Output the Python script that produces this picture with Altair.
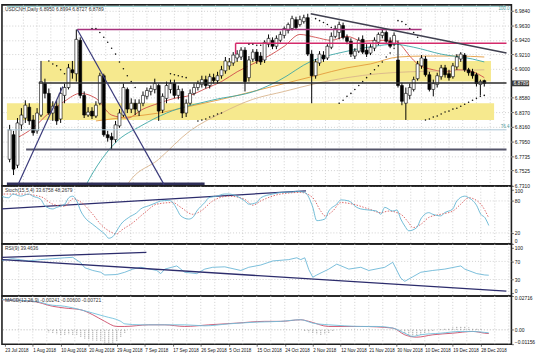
import json
import altair as alt
import pandas as pd

FONT = "Liberation Sans"

# ---------------- data (bar index 0 = 23 Jul 2018) ----------------
open_ = [6.7689, 6.8045, 6.7603, 6.8188, 6.8287, 6.8444, 6.8259, 6.8102, 6.8330, 6.8786,
         6.8644, 6.8359, 6.8458, 6.8273, 6.8615, 6.8729, 6.8986, 6.8929, 6.9413, 6.8615,
         6.8330, 6.8387, 6.8316, 6.8501, 6.8900, 6.8045, 6.8017, 6.7974, 6.8173, 6.8330,
         6.8701, 6.8416, 6.8501, 6.8387, 6.8501, 6.8601, 6.8672, 6.8701, 6.8758, 6.8401,
         6.8572, 6.8701, 6.8786, 6.8615, 6.8672, 6.8359, 6.8501, 6.8644, 6.8729, 6.8772,
         6.8843, 6.8758, 6.8872, 6.8829, 6.8900, 6.8971, 6.9043, 6.9085, 6.9157, 6.9171,
         6.9270, 6.8872, 6.9142, 6.9242, 6.9185, 6.9128, 6.9356, 6.9413, 6.9327, 6.9413,
         6.9484, 6.9556, 6.9584, 6.9712, 6.9641, 6.9684, 6.9741, 6.9213, 6.8900, 6.9085,
         6.9199, 6.9157, 6.9313, 6.9470, 6.9527, 6.9627, 6.9456, 6.9399, 6.9185, 6.9256,
         6.9427, 6.9270, 6.9228, 6.9299, 6.9384, 6.9484, 6.9527, 6.9399, 6.9356, 6.9128,
         6.8758, 6.8501, 6.8615, 6.8701, 6.8857, 6.9043, 6.9142, 6.8914, 6.8701, 6.8772,
         6.8886, 6.9014, 6.8929, 6.8886, 6.9028, 6.9142, 6.9199, 6.8986, 6.8957, 6.8914,
         6.8772, 6.8829]
close_ = [6.8116, 6.7546, 6.8216, 6.8330, 6.8473, 6.8245, 6.8074, 6.8359, 6.8815, 6.8644,
          6.8359, 6.8458, 6.8245, 6.8644, 6.8729, 6.9014, 6.8943, 6.9427, 6.8615, 6.8330,
          6.8373, 6.8316, 6.8473, 6.8900, 6.8045, 6.8002, 6.7974, 6.8188, 6.8359, 6.8729,
          6.8416, 6.8501, 6.8416, 6.8501, 6.8615, 6.8686, 6.8715, 6.8786, 6.8387, 6.8601,
          6.8758, 6.8786, 6.8615, 6.8701, 6.8359, 6.8501, 6.8644, 6.8729, 6.8786, 6.8843,
          6.8758, 6.8886, 6.8829, 6.8900, 6.8986, 6.9114, 6.9100, 6.9199, 6.9213, 6.9270,
          6.8815, 6.9128, 6.9242, 6.9114, 6.9100, 6.9384, 6.9441, 6.9327, 6.9441, 6.9498,
          6.9584, 6.9641, 6.9727, 6.9598, 6.9712, 6.9741, 6.9213, 6.8900, 6.9100, 6.9213,
          6.9142, 6.9327, 6.9470, 6.9584, 6.9641, 6.9456, 6.9399, 6.9213, 6.9256, 6.9413,
          6.9242, 6.9213, 6.9313, 6.9413, 6.9498, 6.9527, 6.9399, 6.9327, 6.9484, 6.8758,
          6.8530, 6.8644, 6.8729, 6.8843, 6.9071, 6.9157, 6.8914, 6.8701, 6.8786, 6.8900,
          6.9014, 6.8914, 6.8872, 6.9043, 6.9171, 6.9213, 6.8986, 6.8943, 6.8900, 6.8786,
          6.8815, 6.8789]
high_ = [6.8188, 6.8102, 6.8287, 6.8430, 6.8544, 6.8501, 6.8330, 6.8430, 6.9114, 6.8857,
         6.8715, 6.8530, 6.8544, 6.8729, 6.8786, 6.9071, 6.9114, 6.9570, 6.9456, 6.8672,
         6.8444, 6.8444, 6.8530, 6.8943, 6.8929, 6.8102, 6.8074, 6.8245, 6.8416, 6.8786,
         6.8729, 6.8572, 6.8558, 6.8558, 6.8672, 6.8729, 6.8758, 6.8857, 6.8786, 6.8644,
         6.8815, 6.8843, 6.8843, 6.8758, 6.8715, 6.8558, 6.8701, 6.8786, 6.8829, 6.8900,
         6.8900, 6.8929, 6.8929, 6.8957, 6.9043, 6.9171, 6.9157, 6.9242, 6.9270, 6.9313,
         6.9313, 6.9185, 6.9285, 6.9285, 6.9242, 6.9413, 6.9498, 6.9456, 6.9484, 6.9541,
         6.9612, 6.9670, 6.9769, 6.9755, 6.9769, 6.9784, 6.9798, 6.9270, 6.9142, 6.9256,
         6.9256, 6.9356, 6.9527, 6.9627, 6.9684, 6.9670, 6.9498, 6.9441, 6.9299, 6.9456,
         6.9484, 6.9356, 6.9356, 6.9456, 6.9527, 6.9570, 6.9556, 6.9456, 6.9527, 6.9413,
         6.8800, 6.8729, 6.8786, 6.8886, 6.9114, 6.9199, 6.9185, 6.8957, 6.8843, 6.8943,
         6.9057, 6.9057, 6.8986, 6.9085, 6.9213, 6.9242, 6.9228, 6.9014, 6.9000, 6.8943,
         6.8843, 6.8843]
low_ = [6.7646, 6.7461, 6.7561, 6.8102, 6.8216, 6.8188, 6.8031, 6.8059, 6.8302, 6.8572,
        6.8330, 6.8245, 6.8188, 6.8216, 6.8501, 6.8701, 6.8857, 6.8815, 6.8572, 6.8287,
        6.8302, 6.8273, 6.8287, 6.8473, 6.8017, 6.7945, 6.7831, 6.7931, 6.8145, 6.8302,
        6.8359, 6.8359, 6.8330, 6.8316, 6.8458, 6.8558, 6.8615, 6.8644, 6.8245, 6.8359,
        6.8501, 6.8644, 6.8572, 6.8558, 6.8287, 6.8302, 6.8473, 6.8615, 6.8686, 6.8729,
        6.8715, 6.8715, 6.8786, 6.8786, 6.8857, 6.8929, 6.8986, 6.9043, 6.9100, 6.9128,
        6.8672, 6.8815, 6.9100, 6.9071, 6.9057, 6.9085, 6.9313, 6.9285, 6.9285, 6.9384,
        6.9441, 6.9513, 6.9556, 6.9570, 6.9612, 6.9655, 6.9185, 6.8501, 6.8857, 6.9043,
        6.9100, 6.9128, 6.9285, 6.9441, 6.9427, 6.9427, 6.9356, 6.9171, 6.9142, 6.9228,
        6.9213, 6.9171, 6.9199, 6.9256, 6.9342, 6.9441, 6.9370, 6.9299, 6.9327, 6.8729,
        6.8473, 6.8259, 6.8558, 6.8672, 6.8829, 6.9000, 6.8886, 6.8672, 6.8601, 6.8729,
        6.8843, 6.8872, 6.8829, 6.8857, 6.8986, 6.9100, 6.8957, 6.8900, 6.8857, 6.8743,
        6.8615, 6.8743]

# moving averages (bar, price)
ma_red_n = [2, 6, 10, 14, 18, 22, 26, 30, 34, 38, 42, 46, 50, 54, 58, 62, 66, 70, 74, 78, 82, 86, 90,
            94, 98, 100, 102, 104, 108, 112, 114, 118, 121]
ma_red_v = [6.8002, 6.8145, 6.8359, 6.8530, 6.8644, 6.8572, 6.8330, 6.8287, 6.8416, 6.8501, 6.8572,
            6.8615, 6.8715, 6.8815, 6.8957, 6.9071, 6.9185, 6.9327, 6.9498, 6.9456, 6.9413, 6.9470,
            6.9399, 6.9413, 6.9413, 6.9327, 6.9185, 6.9071, 6.8986, 6.8957, 6.8986, 6.8957, 6.8872]
ma_orange_n = [22, 30, 38, 46, 54, 62, 70, 78, 86, 92, 99, 106, 114, 121]
ma_orange_v = [6.8245, 6.8302, 6.8359, 6.8458, 6.8558, 6.8672, 6.8786, 6.8900, 6.9014, 6.9071,
               6.9171, 6.9185, 6.9185, 6.9171]
ma_teal_n = [18, 19.5, 27, 33.5, 40, 51.5, 63, 68.6, 77, 85, 93, 98, 103, 110, 118, 121]
ma_teal_v = [6.7147, 6.7318, 6.7931, 6.8173, 6.8359, 6.8544, 6.8686, 6.8829, 6.9114, 6.9242,
             6.9327, 6.9356, 6.9313, 6.9213, 6.9142, 6.9100]
ma_tan_n = [29, 30, 38, 46, 54, 62, 70, 78, 86, 94, 102, 112, 121]
ma_tan_v = [6.7190, 6.7318, 6.7689, 6.8102, 6.8359, 6.8558, 6.8672, 6.8786, 6.8872, 6.8929,
            6.8957, 6.8971, 6.8986]

# parabolic SAR dots
sar_n = [10, 11, 12, 13, 14, 21, 22, 23, 24, 25, 26, 27, 28, 29, 30, 31, 32, 41, 42, 43, 44, 45,
         48, 49, 50, 51, 52, 53, 54, 61, 62, 63, 64, 78, 79, 80, 81, 82,
         84, 85, 86, 87, 88, 89, 90, 91, 92, 93, 94, 95, 96, 97, 98, 99, 100, 101, 102, 103, 104,
         106, 107, 108, 109, 110, 111, 112, 113, 114, 115, 116, 117, 118, 119, 120, 121]
sar_v = [6.9114, 6.9071, 6.9043, 6.8986, 6.8929, 6.9584, 6.9584, 6.9527, 6.9456, 6.9384, 6.9299,
         6.9213, 6.9100, 6.9000, 6.8900, 6.8815, 6.8729, 6.8929, 6.8914, 6.8900, 6.8886, 6.8872,
         6.8245, 6.8259, 6.8273, 6.8302, 6.8316, 6.8344, 6.8359, 6.9356, 6.9356, 6.9342, 6.9342,
         6.9727, 6.9698, 6.9670, 6.9641, 6.9598,
         6.8501, 6.8544, 6.8601, 6.8644, 6.8701, 6.8758, 6.8815, 6.8872, 6.8929, 6.8986, 6.9043,
         6.9100, 6.9171, 6.9228, 6.9299, 6.9698, 6.9684, 6.9641, 6.9584, 6.9527, 6.9456,
         6.8259, 6.8273, 6.8302, 6.8316, 6.8344, 6.8373, 6.8387, 6.8416, 6.8430, 6.8458, 6.8487,
         6.8515, 6.8544, 6.8572, 6.8601, 6.8615]

# drawn objects
band_from = [8.15, -0.7]
band_to = [122.7, 123.5]
band_hi = [6.9114, 6.8501]
band_lo = [6.8815, 6.8259]

hl_price = [6.9570, 6.9370, 6.8795, 6.8116, 6.7831, 6.9905, 6.7335]
hl_from = [17.24, 57.6, 7.4, -0.7, 4.2, -0.7, -0.7]
hl_to = [105.0, 126.66, 126.66, 126.66, 126.66, 126.66, 49.7]
hl_color = ["#a8327e", "#d42a6a", "#2b2b2b", "#a8c4d4", "#55556a", "#8cc8c8", "#2e2e58"]
hl_width = [1.5, 1.5, 1.4, 1.0, 2.0, 1.0, 2.5]

tl_x1 = [17.24, 2.24, 76.75, 57.6]
tl_x2 = [39.4, 13.56, 126.66, 57.6]
tl_p1 = [6.9570, 6.7333, 6.9798, 6.9370]
tl_p2 = [6.7318, 6.8743, 6.9228, 6.9213]
tl_color = ["#3a3a7a", "#3a3a7a", "#404050", "#d42a6a"]
tl_width = [1.2, 1.2, 1.6, 1.5]

fib_price = [6.9905, 6.8116]
fib_text = ["100.0", "76.4"]

price_ticks = [6.9840, 6.9630, 6.9420, 6.9210, 6.9000, 6.8580, 6.8370, 6.8160, 6.7950,
               6.7735, 6.7525, 6.7310]
last_price = 6.8789

# stochastic
k_n = [-1, 1, 2, 4, 6, 7, 9, 10, 12, 13, 15, 16, 17, 18, 19, 20, 22, 23, 24, 25, 26, 27, 28, 29, 31,
       33, 34, 36, 38, 39, 41, 42, 43, 44, 46, 47, 48, 50, 51, 53, 55, 56, 58, 60, 61, 63, 64, 67, 69,
       72, 73, 75, 77, 78, 80, 81, 83, 84, 86, 88, 89, 91, 93, 94, 95, 97, 98, 99, 100, 101, 103, 104,
       106, 107, 109, 110, 112, 113, 115, 116, 118, 119, 120, 121]
k_v = [89, 86, 93, 89, 93, 89, 83, 71, 65, 68, 74, 86, 89, 80, 61, 49, 36, 30, 24, 18, 10, 13, 24, 36,
       49, 58, 65, 71, 77, 80, 81, 77, 65, 52, 46, 49, 61, 77, 86, 89, 93, 93, 89, 80, 74, 77, 86, 93,
       96, 97, 98, 96, 68, 43, 46, 61, 74, 82, 80, 68, 65, 63, 61, 55, 68, 61, 63, 46, 33, 24, 30, 46,
       58, 55, 52, 58, 65, 80, 89, 86, 71, 55, 49, 34]
d_n = [-1, 4, 9, 12, 15, 17, 19, 22, 24, 26, 28, 29, 32, 35, 38, 42, 44, 47, 49, 52, 56, 60, 62, 64,
       69, 74, 77, 79, 80, 82, 84, 87, 91, 94, 96, 99, 101, 102, 104, 106, 109, 112, 114, 116, 119, 121]
d_v = [93, 93, 88, 74, 70, 84, 78, 55, 36, 24, 18, 24, 39, 58, 74, 77, 68, 55, 61, 80, 89, 83, 72, 80,
       93, 96, 86, 61, 52, 61, 77, 74, 65, 58, 61, 55, 39, 30, 36, 49, 55, 61, 74, 86, 74, 48]
stoch_tl = {"a": [-0.7], "b": [75.3], "p1": [65], "p2": [99]}

# RSI
rsi_n = [-1, 2, 6, 9, 12, 15, 17, 19, 20, 22, 24, 25, 28, 30, 32, 34, 38, 39, 40, 43, 45, 48, 50, 52,
         55, 59, 61, 64, 67, 71, 73, 74, 75, 76, 77, 78, 81, 83, 86, 89, 91, 95, 97, 99, 100, 102, 104,
         107, 110, 114, 115, 118, 120, 121]
rsi_v = [72, 76, 71, 74, 76, 78, 79, 67, 56, 50, 46, 40, 41, 46, 53, 57, 50, 43, 53, 60, 46, 43, 53,
         57, 58, 50, 57, 62, 71, 74, 78, 74, 78, 52, 35, 40, 53, 64, 53, 57, 50, 57, 68, 33, 26, 36,
         46, 50, 53, 60, 53, 43, 40, 39.5]
rsi_tl = {"a": [-0.7, -0.7], "b": [125.4, 35.4], "p1": [73.9, 78.9], "p2": [4.3, 89.8]}

# MACD
mm_n = [-1, 4, 9, 11, 15, 19, 22, 25, 29, 30, 34, 38, 45, 50, 56, 63, 69, 74, 77, 81, 85, 89, 93,
        97, 100, 102, 104, 109, 114, 117, 120, 121]
mm_v = [0.0242, 0.0237, 0.0221, 0.0202, 0.0189, 0.0161, 0.0135, 0.0108, 0.0068, 0.0048, 0.0040,
        0.0040, 0.0040, 0.0032, 0.0048, 0.0062, 0.0068, 0.0081, 0.0054, 0.0040, 0.0032, 0.0027,
        0.0027, 0.0014, -0.0027, -0.0053, -0.0040, -0.0027, -0.0013, -0.0013, -0.0021, -0.0024]
ms_n = [-1, 7, 12, 15, 19, 22, 25, 28, 30, 36, 40, 45, 51, 58, 65, 69, 74, 76, 81, 89, 97, 100, 103,
        107, 112, 117, 120, 121]
ms_v = [0.0242, 0.0229, 0.0189, 0.0175, 0.0161, 0.0121, 0.0068, 0.0027, 0.0027, 0.0040, 0.0040,
        0.0027, 0.0040, 0.0054, 0.0068, 0.0068, 0.0081, 0.0068, 0.0027, 0.0027, 0.0014, -0.0040,
        -0.0059, -0.0040, -0.0027, -0.0013, -0.0027, -0.0030]
hist_n = [11, 12, 13, 14, 15, 16, 17, 18, 19, 20, 21, 22, 23, 24, 25, 26, 27, 28, 29, 30,
          75, 76, 77, 78, 79, 80, 81, 82,
          99, 100, 101, 102, 103, 104, 105, 106, 107,
          109, 110, 111, 112, 113, 114, 115, 116, 117, 118, 119]
hist_v = [-0.0020, -0.0030, -0.0035, -0.0040, -0.0040, -0.0035, -0.0040, -0.0045, -0.0060, -0.0070,
          -0.0080, -0.0085, -0.0090, -0.0095, -0.0105, -0.0107, -0.0105, -0.0090, -0.0060, -0.0030,
          -0.0010, -0.0020, -0.0030, -0.0035, -0.0040, -0.0035, -0.0030, -0.0015,
          -0.0010, -0.0030, -0.0045, -0.0055, -0.0050, -0.0040, -0.0030, -0.0020, -0.0010,
          0.0005, 0.0010, 0.0015, 0.0020, 0.0025, 0.0027, 0.0025, 0.0020, 0.0015, 0.0010, 0.0005]

date_labels = ["23 Jul 2018", "1 Aug 2018", "10 Aug 2018", "20 Aug 2018", "29 Aug 2018",
               "7 Sep 2018", "17 Sep 2018", "26 Sep 2018", "5 Oct 2018", "15 Oct 2018",
               "24 Oct 2018", "2 Nov 2018", "12 Nov 2018", "21 Nov 2018", "30 Nov 2018",
               "10 Dec 2018", "19 Dec 2018", "28 Dec 2018"]
date_ticks = [7 * k for k in range(len(date_labels))]
grid_bars = [3.5 * k for k in range(1, 37)]

title_main = "USDCNH,Daily  6.8950 6.8994 6.8727 6.8789"
title_stoch = "Stoch(15,5,4) 33.6758 48.2679"
title_rsi = "RSI(9) 39.4636"
title_macd = "MACD(12,26,9) -0.00241 -0.00600 -0.00721"

# ---------------- chart ----------------
PW = 518
xs = alt.Scale(domain=[-0.7, 126.66], nice=False, zero=False)


def X(f, axis=None):
    return alt.X(f"{f}:Q", scale=xs, axis=axis)


def Y(f, scale, axis):
    return alt.Y(f"{f}:Q", scale=scale, axis=axis)


def ax_right(values, **kw):
    return alt.Axis(orient="right", values=values, labelFont=FONT, labelFontSize=5,
                    labelColor="#111", labelPadding=1, tickSize=2, tickColor="#444",
                    tickWidth=0.8, domain=False, title=None, labelOverlap=False, **kw)


def vgrid(xaxis=None):
    return alt.Chart(pd.DataFrame({"g": grid_bars})).mark_rule(
        color="#c4c4c4", strokeDash=[1, 2], strokeWidth=0.8).encode(x=X("g", xaxis))


def title_layer(t):
    return alt.Chart(pd.DataFrame({"t": [t]})).mark_text(
        align="left", baseline="top", font=FONT, fontSize=5, color="#333").encode(
        x=alt.value(3), y=alt.value(2), text="t:N")


# main panel
ps = alt.Scale(domain=[6.7304, 6.9926], nice=False, zero=False)
pa = ax_right(price_ticks, format=".4f", grid=True, gridColor="#c4c4c4", gridDash=[1, 2],
              gridWidth=0.8)

candles = pd.DataFrame({"n": list(range(len(open_))), "o": open_, "h": high_, "l": low_, "c": close_})
bands = pd.DataFrame({"a": band_from, "b": band_to, "hi": band_hi, "lo": band_lo})
hls = pd.DataFrame({"p": hl_price, "a": hl_from, "b": hl_to, "col": hl_color, "w": hl_width})
tls = pd.DataFrame({"a": tl_x1, "b": tl_x2, "p1": tl_p1, "p2": tl_p2, "col": tl_color, "w": tl_width})
ma_rows = []
for name, ns, vs in [("red", ma_red_n, ma_red_v), ("orange", ma_orange_n, ma_orange_v),
                     ("teal", ma_teal_n, ma_teal_v), ("tan", ma_tan_n, ma_tan_v)]:
    for n, v in zip(ns, vs):
        ma_rows.append({"s": name, "n": n, "v": v})
mas = pd.DataFrame(ma_rows)

l_bands = alt.Chart(bands).mark_rect(color="#f6e98e").encode(
    x=X("a"), x2="b", y=Y("hi", ps, pa), y2="lo")
l_ma = alt.Chart(mas).mark_line(strokeWidth=0.9, interpolate="monotone", clip=True).encode(
    x=X("n"), y=Y("v", ps, pa),
    color=alt.Color("s:N", legend=None,
                    scale=alt.Scale(domain=["red", "orange", "teal", "tan"],
                                    range=["#cf4a4a", "#e39a3c", "#3aa6a6", "#d8b48c"])))
l_wick = alt.Chart(candles).mark_rule(color="#000", strokeWidth=1).encode(
    x=X("n"), y=Y("l", ps, pa), y2="h")
l_body = alt.Chart(candles).mark_bar(size=3, stroke="#000", strokeWidth=0.6).encode(
    x=X("n"), y=Y("o", ps, pa), y2="c",
    fill=alt.condition("datum.c >= datum.o", alt.value("#ffffff"), alt.value("#000000")))
l_hl = alt.Chart(hls).mark_rule().encode(
    x=X("a"), x2="b", y=Y("p", ps, pa),
    color=alt.Color("col:N", scale=None), strokeWidth=alt.StrokeWidth("w:Q", scale=None))
l_tl = alt.Chart(tls).mark_rule().encode(
    x=X("a"), x2="b", y=Y("p1", ps, pa), y2="p2",
    color=alt.Color("col:N", scale=None), strokeWidth=alt.StrokeWidth("w:Q", scale=None))
l_sar = alt.Chart(pd.DataFrame({"n": sar_n, "v": sar_v})).mark_circle(
    size=2.5, color="#111", opacity=1).encode(x=X("n"), y=Y("v", ps, pa))
fib = pd.DataFrame({"p": fib_price, "t": fib_text})
l_fib1 = alt.Chart(fib.iloc[[0]]).mark_text(
    align="right", baseline="top", font=FONT, fontSize=4.5, color="#4a9a9a").encode(
    x=alt.value(516), y=Y("p", ps, pa), text="t:N")
l_fib2 = alt.Chart(fib.iloc[[1]]).mark_text(
    align="right", baseline="bottom", font=FONT, fontSize=4.5, color="#4a9a9a", dy=-0.5).encode(
    x=alt.value(516), y=Y("p", ps, pa), text="t:N")
box_df = pd.DataFrame({"p": [last_price], "t": [f"{last_price:.4f}"]})
l_box = alt.Chart(box_df).transform_calculate(
    top="datum.p + 0.0042", bot="datum.p - 0.0042").mark_rect(color="#3a3a3a").encode(
    x=alt.value(518), x2=alt.value(536), y=Y("top", ps, pa), y2="bot:Q")
l_boxt = alt.Chart(box_df).mark_text(
    align="left", baseline="middle", font=FONT, fontSize=5, color="#ffffff").encode(
    x=alt.value(520), y=Y("p", ps, pa), text="t:N")

main = alt.layer(vgrid(), l_bands, l_ma, l_wick, l_body, l_hl, l_tl, l_sar,
                 l_fib1, l_fib2, title_layer(title_main), l_box, l_boxt).properties(
    width=PW, height=184)

# stochastic panel
ss = alt.Scale(domain=[-0.6, 108.3], nice=False, zero=False)
sa = ax_right([0, 20, 80, 100], format="d", grid=False, labelFlush=3)
lvl_s = alt.Chart(pd.DataFrame({"v": [20, 80]})).mark_rule(
    color="#c4c4c4", strokeDash=[1, 2], strokeWidth=0.8).encode(y=Y("v", ss, sa))
s_tl = alt.Chart(pd.DataFrame(stoch_tl)).mark_rule(color="#2c2c6c", strokeWidth=1.3).encode(
    x=X("a"), x2="b", y=Y("p1", ss, sa), y2="p2")
s_k = alt.Chart(pd.DataFrame({"n": k_n, "v": k_v})).mark_line(
    color="#62b4d2", strokeWidth=0.9, interpolate="monotone", clip=True).encode(
    x=X("n"), y=Y("v", ss, sa))
s_d = alt.Chart(pd.DataFrame({"n": d_n, "v": d_v})).mark_line(
    color="#d85a5a", strokeWidth=0.9, strokeDash=[1.5, 1.5], interpolate="monotone",
    clip=True).encode(x=X("n"), y=Y("v", ss, sa))
stoch = alt.layer(vgrid(), lvl_s, s_tl, s_d, s_k, title_layer(title_stoch)).properties(
    width=PW, height=59)

# RSI panel
rs = alt.Scale(domain=[-6.5, 108.7], nice=False, zero=False)
ra = ax_right([0, 30, 70, 100], format="d", grid=False, labelFlush=3)
lvl_r = alt.Chart(pd.DataFrame({"v": [30, 70]})).mark_rule(
    color="#c4c4c4", strokeDash=[1, 2], strokeWidth=0.8).encode(y=Y("v", rs, ra))
r_tl = alt.Chart(pd.DataFrame(rsi_tl)).mark_rule(color="#2c2c6c", strokeWidth=1.3).encode(
    x=X("a"), x2="b", y=Y("p1", rs, ra), y2="p2")
r_line = alt.Chart(pd.DataFrame({"n": rsi_n, "v": rsi_v})).mark_line(
    color="#6ab6d6", strokeWidth=0.9, clip=True).encode(x=X("n"), y=Y("v", rs, ra))
rsi = alt.layer(vgrid(), lvl_r, r_line, r_tl, title_layer(title_rsi)).properties(
    width=PW, height=53)

# MACD panel
date_axis = alt.Axis(values=date_ticks, labelExpr=json.dumps(date_labels) + "[round(datum.value / 7)]",
                     labelFont=FONT, labelFontSize=4.6, labelColor="#111", labelAlign="left",
                     labelPadding=1, tickSize=2, tickColor="#444", tickWidth=0.8, domain=False,
                     grid=False, title=None, labelOverlap=False, labelFlush=False)
ms = alt.Scale(domain=[-0.01156, 0.02716], nice=False, zero=False)
ma_ = ax_right([-0.01156, 0, 0.02716], grid=False, labelFlush=True,
               labelExpr="datum.value == 0 ? '0.00' : format(datum.value, '.5f')")
lvl_m = alt.Chart(pd.DataFrame({"v": [0.0]})).mark_rule(
    color="#a0a0a0", strokeDash=[1, 2], strokeWidth=0.8).encode(y=Y("v", ms, ma_))
m_hist = alt.Chart(pd.DataFrame({"n": hist_n, "v": hist_v, "z": [0.0] * len(hist_n)})).mark_rule(
    color="#8a8a8a", strokeDash=[1, 1], strokeWidth=1).encode(
    x=X("n", date_axis), y=Y("z", ms, ma_), y2="v")
m_main = alt.Chart(pd.DataFrame({"n": mm_n, "v": mm_v})).mark_line(
    color="#6ec0dc", strokeWidth=0.9, interpolate="monotone", clip=True).encode(
    x=X("n", date_axis), y=Y("v", ms, ma_))
m_sig = alt.Chart(pd.DataFrame({"n": ms_n, "v": ms_v})).mark_line(
    color="#cc4a66", strokeWidth=0.9, interpolate="monotone", clip=True).encode(
    x=X("n", date_axis), y=Y("v", ms, ma_))
macd = alt.layer(vgrid(date_axis), lvl_m, m_hist, m_sig, m_main, title_layer(title_macd)).properties(
    width=PW, height=49)

chart = alt.vconcat(main, stoch, rsi, macd, spacing=0, bounds="flush").properties(
    padding={"left": 0, "top": 0, "right": 0, "bottom": 0}, background="#ffffff"
).configure_view(stroke="#1e1e1e", strokeWidth=1.6)

chart.save("out.html", embed_options={"renderer": "svg", "actions": False})
